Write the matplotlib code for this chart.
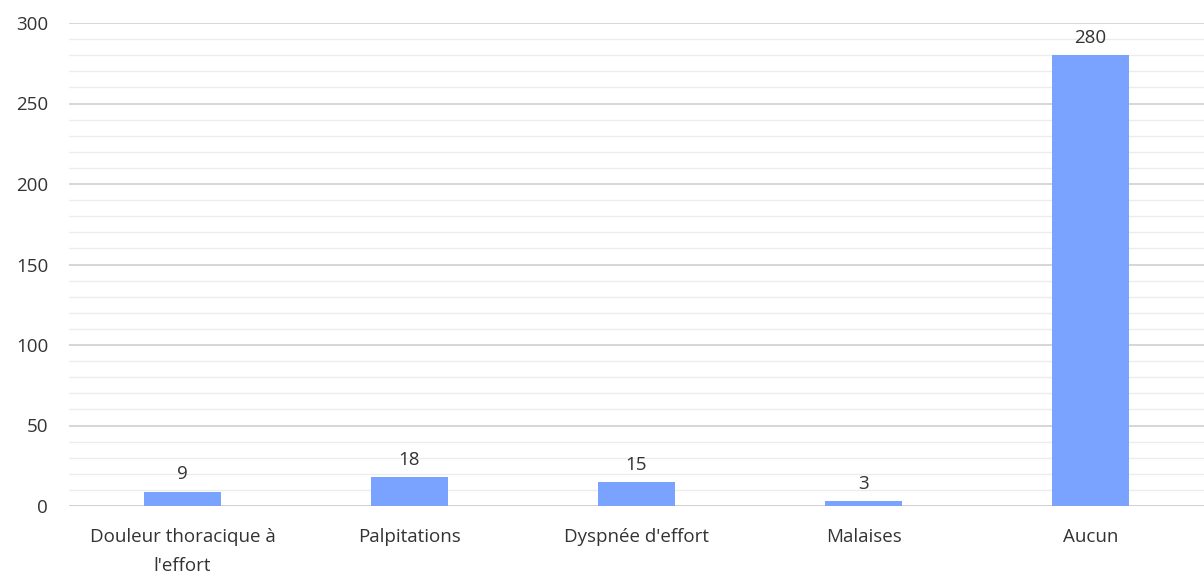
import matplotlib
matplotlib.use("Agg")
import matplotlib.pyplot as plt
from matplotlib.ticker import MultipleLocator

categories = ["Douleur thoracique à\nl'effort", "Palpitations", "Dyspnée d'effort", "Malaises", "Aucun"]
values = [9, 18, 15, 3, 280]

plt.rcParams['font.family'] = ['Open Sans', 'DejaVu Sans']

fig = plt.figure(figsize=(12.04, 5.74), dpi=100)
ax = fig.add_axes([69/1204, 68/574, 1 - 69/1204, (506-23)/574])

x = list(range(len(categories)))
bars = ax.bar(x, values, width=0.335, color="#7aa3ff", zorder=3)
for xi, v in zip(x, values):
    ax.annotate(str(v), (xi, v), xytext=(0, 6), textcoords="offset points",
                ha="center", va="bottom", fontsize=13.5, color="#333333")

ax.set_xlim(-0.5, 4.5)
ax.set_ylim(0, 300)
ax.yaxis.set_major_locator(MultipleLocator(50))
ax.yaxis.set_minor_locator(MultipleLocator(10))
ax.grid(axis="y", which="major", color="#d0d0d0", linewidth=1.2, zorder=0)
ax.grid(axis="y", which="minor", color="#ececec", linewidth=1.0, zorder=0)
ax.set_xticks(x)
ax.set_xticklabels(categories, fontsize=13.5, color="#333333", linespacing=1.8)
ax.tick_params(axis="y", labelsize=13.5, labelcolor="#333333", length=0, pad=15, which="both")
ax.tick_params(axis="x", length=0, pad=16)
for s in ax.spines.values():
    s.set_visible(False)
ax.axhline(0, color="#d0d0d0", linewidth=1.2, zorder=2)

fig.savefig("out.png", dpi=100)
